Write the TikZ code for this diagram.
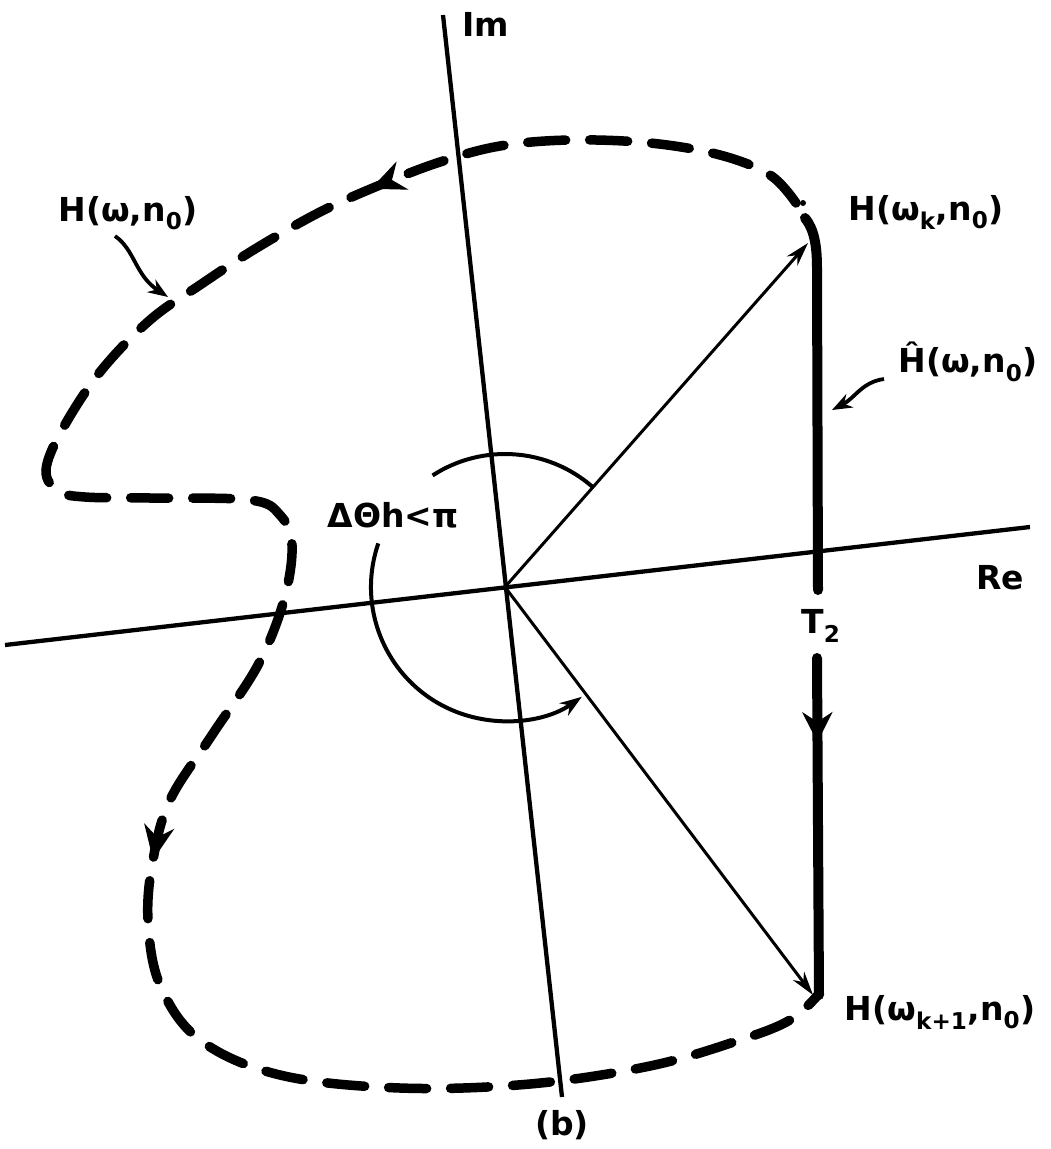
\documentclass[tikz,border=0pt]{standalone}
\usepackage{fontspec}
\setmainfont{DejaVu Sans}
\usetikzlibrary{arrows.meta,decorations.markings}
\begin{document}
\begin{tikzpicture}[x=1pt,y=-1pt,
  axis/.style={line width=4.3pt},
  vec/.style={line width=3pt,-{Stealth[length=24pt,width=14pt]}},
  thick line/.style={line width=10pt,line cap=round},
  curvedash/.style={line width=9.5pt,line cap=round,dash pattern=on 38pt off 24pt},
  lbl/.style={font=\fontsize{33}{35}\selectfont\bfseries, inner sep=0pt},
  pointer/.style={line width=3.8pt,-{Stealth[length=20pt,width=15pt]}},
]
\useasboundingbox[fill=white] (0,0) rectangle (1050,1149);

% axes
\coordinate (O) at (505,587);
\coordinate (ImT) at (443,15);
\coordinate (ImB) at (562,1097);
\coordinate (ReL) at (5,645);
\coordinate (ReR) at (1030,527);
\draw[axis] (ImT) -- (ImB);
\draw[axis] (ReL) -- (ReR);

% vectors
\coordinate (V1) at (808,243);
\coordinate (V2) at (813,995);
\draw[vec] (O) -- (V1);
\draw[vec] (O) -- (V2);

% angle arcs
\draw[line width=4pt] (O) ++(-48.7:133) arc[start angle=-48.7, end angle=-123, radius=133];
\draw[line width=4pt,-{Stealth[length=22pt,width=15pt]}] (O) ++(-161:134) arc[start angle=-161, end angle=-305, radius=134];

% thick segment H-hat
\coordinate (Ht) at (805,218);
\coordinate (Hm) at (818,590);
\coordinate (Hl) at (817,658);
\coordinate (Hb) at (819,995);
\draw[thick line] (Ht) .. controls (814,229) and (817,245) .. (817,268) -- (Hm);
\draw[thick line, postaction={decorate},
  decoration={markings, mark=at position 0.25 with {\arrow{Stealth[length=30pt,width=30pt]}}}]
  (Hl) -- (Hb);

% dashed locus H(w,n0)
\fill (803,203) circle[radius=3pt];
\draw[curvedash, postaction={decorate},
  decoration={markings,
    mark=at position 0.19 with {\arrow{Stealth[length=34pt,width=30pt]}},
    mark=at position 0.645 with {\arrow{Stealth[length=34pt,width=30pt]}}}]
  plot[smooth, tension=0.6] coordinates {
  (796,203) (770,175) (720,155) (650,143) (570,140) (500,146) (440,162)
  (380,185) (320,212) (255,249) (200,285) (150,320) (100,372) (62,430)
  (46,470) (58,491) (85,497) (150,498) (250,500) (280,515) (292,545)
  (284,600) (258,665) (212,735) (170,800) (153,860) (148,920) (160,985)
  (200,1040) (280,1075) (400,1088) (530,1084) (650,1066) (740,1040)
  (790,1020) (818,995)};

% labels
\node[lbl] (im) at (486,24) {Im};
\node[lbl] (re) at (1000,578) {Re};
\node[lbl] (b) at (562,1125) {(b)};
\node[lbl] (t2) at (821,626) {T\textsubscript{2}};
\node[lbl] (dth) at (393,515) {ΔΘh<π};
\node[lbl] (hk) at (926,212) {H(ω\textsubscript{k},n\textsubscript{0})};
\node[lbl] (hk1) at (940,1012) {H(ω\textsubscript{k+1},n\textsubscript{0})};
\node[lbl] (hw) at (128,213) {H(ω,n\textsubscript{0})};
\node[lbl] (hh) at (968,362) {Ĥ(ω,n\textsubscript{0})};

% pointers
\coordinate (p1e) at (168,297);
\draw[pointer] (115,236) .. controls (135,250) and (135,275) .. (p1e);
\coordinate (p2e) at (832,410);
\draw[pointer] (884,379) .. controls (862,382) and (855,398) .. (p2e);
\end{tikzpicture}
\end{document}
